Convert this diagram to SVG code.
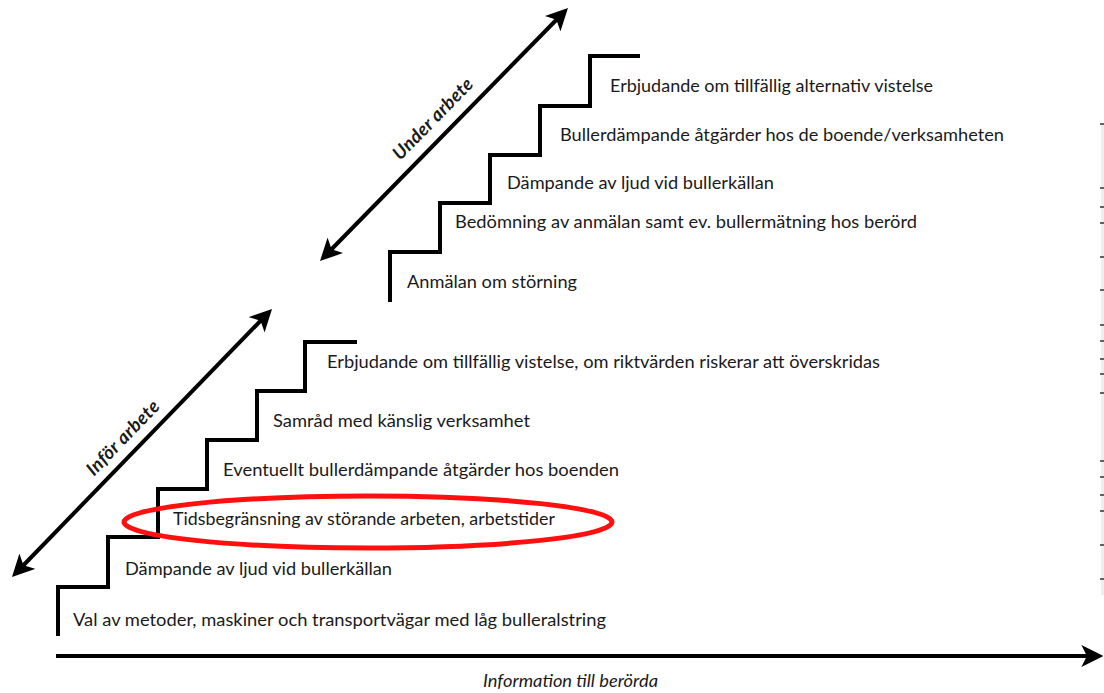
<svg xmlns="http://www.w3.org/2000/svg" width="1104" height="693" viewBox="0 0 1104 693">
<style>
.bg{fill:#fff}
.stair{fill:none;stroke:#000;stroke-width:4;stroke-linejoin:miter}
.arrow{fill:none;stroke:#000;stroke-width:4}
.lbl{font-family:Lato,"Open Sans","Liberation Sans",sans-serif;font-size:17.5px;fill:#1a1a1a}
.ital{font-family:Lato,"Open Sans","Liberation Sans",sans-serif;font-size:17px;font-style:italic;fill:#1a1a1a}
.bold{font-weight:bold;font-size:18.5px}
.tick{stroke:#333;stroke-width:1.5}
</style>
<defs>
<marker id="ah" markerUnits="userSpaceOnUse" markerWidth="22" markerHeight="22" viewBox="0 0 20 20" refX="6" refY="10" orient="auto-start-reverse">
<path d="M0,0 L20,10 L0,20 L5,10 Z" fill="#000"/>
</marker>
</defs>
<rect class="bg" x="0" y="0" width="1104" height="693"/>

<g id="side-strip">
<rect x="1101" y="124" width="3" height="471" fill="#eeeeee"/>
<g class="tick">
<line x1="1100" y1="124" x2="1104" y2="124"/><line x1="1100" y1="188" x2="1104" y2="188"/>
<line x1="1100" y1="207" x2="1104" y2="207"/><line x1="1100" y1="223" x2="1104" y2="223"/>
<line x1="1100" y1="257" x2="1104" y2="257"/><line x1="1100" y1="290" x2="1104" y2="290"/>
<line x1="1100" y1="325" x2="1104" y2="325"/><line x1="1100" y1="341" x2="1104" y2="341"/>
<line x1="1100" y1="359" x2="1104" y2="359"/><line x1="1100" y1="374" x2="1104" y2="374"/>
<line x1="1100" y1="393" x2="1104" y2="393"/><line x1="1100" y1="461" x2="1104" y2="461"/>
<line x1="1100" y1="477" x2="1104" y2="477"/><line x1="1100" y1="495" x2="1104" y2="495"/>
<line x1="1100" y1="511" x2="1104" y2="511"/><line x1="1100" y1="545" x2="1104" y2="545"/>
<line x1="1100" y1="579" x2="1104" y2="579"/>
</g>
</g>

<g id="connectors">
<line class="arrow" x1="56" y1="656" x2="1088" y2="656" marker-end="url(#ah)"/>
<line class="arrow" x1="22.7" y1="566" x2="261.3" y2="320" marker-start="url(#ah)" marker-end="url(#ah)"/>
<line class="arrow" x1="330.8" y1="250" x2="557.2" y2="19" marker-start="url(#ah)" marker-end="url(#ah)"/>
</g>

<g id="stairs-infor">
<path class="stair" d="M58,636 V587 H108 V537 H158 V489 H207 V440 H257 V391 H305 V342 H357"/>
</g>
<g id="stairs-under">
<path class="stair" d="M390,302 V252 H440 V203 H490 V155 H540 V106 H590 V56 H640"/>
</g>

<g id="step-1"><text class="lbl" x="73" y="626" textLength="533" lengthAdjust="spacingAndGlyphs">Val av metoder, maskiner och transportvägar med låg bulleralstring</text></g>
<g id="step-2"><text class="lbl" x="125" y="575" textLength="267" lengthAdjust="spacingAndGlyphs">Dämpande av ljud vid bullerkällan</text></g>
<g id="step-3"><text class="lbl" x="173" y="525" textLength="382" lengthAdjust="spacingAndGlyphs">Tidsbegränsning av störande arbeten, arbetstider</text></g>
<g id="step-4"><text class="lbl" x="223" y="476" textLength="396" lengthAdjust="spacingAndGlyphs">Eventuellt bullerdämpande åtgärder hos boenden</text></g>
<g id="step-5"><text class="lbl" x="273" y="427" textLength="257" lengthAdjust="spacingAndGlyphs">Samråd med känslig verksamhet</text></g>
<g id="step-6"><text class="lbl" x="327" y="368" textLength="553" lengthAdjust="spacingAndGlyphs">Erbjudande om tillfällig vistelse, om riktvärden riskerar att överskridas</text></g>

<g id="ustep-1"><text class="lbl" x="407" y="288" textLength="170" lengthAdjust="spacingAndGlyphs">Anmälan om störning</text></g>
<g id="ustep-2"><text class="lbl" x="455" y="228" textLength="462" lengthAdjust="spacingAndGlyphs">Bedömning av anmälan samt ev. bullermätning hos berörd</text></g>
<g id="ustep-3"><text class="lbl" x="507" y="189" textLength="267" lengthAdjust="spacingAndGlyphs">Dämpande av ljud vid bullerkällan</text></g>
<g id="ustep-4"><text class="lbl" x="560" y="141" textLength="444" lengthAdjust="spacingAndGlyphs">Bullerdämpande åtgärder hos de boende/verksamheten</text></g>
<g id="ustep-5"><text class="lbl" x="610" y="92" textLength="323" lengthAdjust="spacingAndGlyphs">Erbjudande om tillfällig alternativ vistelse</text></g>

<g id="highlight">
<ellipse cx="368" cy="522" rx="244" ry="26" fill="none" stroke="#ff1010" stroke-width="5"/>
</g>

<g id="label-infor"><text class="ital bold" transform="translate(123,438) rotate(-46)" x="0" y="6" text-anchor="middle" textLength="96">Inför arbete</text></g>
<g id="label-under"><text class="ital bold" transform="translate(433,119) rotate(-45.6)" x="0" y="6" text-anchor="middle" textLength="106">Under arbete</text></g>
<g id="label-axis"><text class="ital" x="483" y="687" textLength="175" lengthAdjust="spacingAndGlyphs">Information till berörda</text></g>
</svg>
